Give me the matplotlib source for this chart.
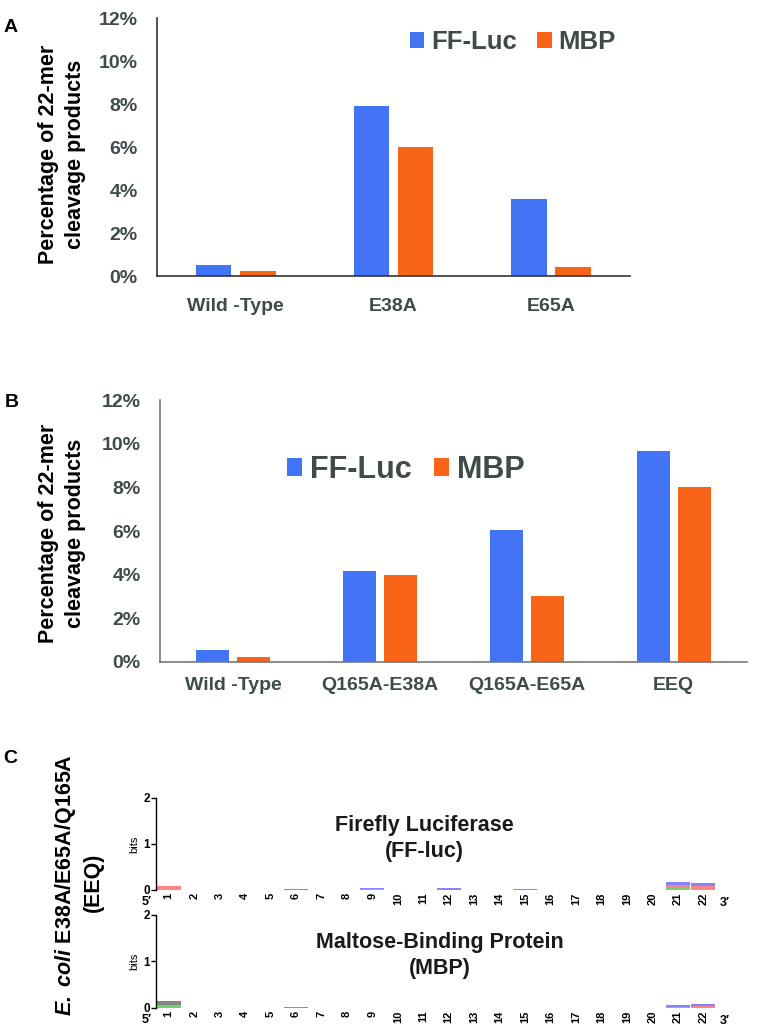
import numpy as np
import matplotlib
matplotlib.use('Agg')
import matplotlib.pyplot as plt

plt.rcParams['font.family'] = ['Liberation Sans', 'DejaVu Sans']
plt.rcParams['mathtext.fontset'] = 'custom'
plt.rcParams['mathtext.rm'] = 'Liberation Sans'
plt.rcParams['mathtext.it'] = 'Liberation Sans:italic'
plt.rcParams['mathtext.bf'] = 'Liberation Sans:bold'
plt.rcParams['mathtext.bfit'] = 'Liberation Sans:italic:bold'

# panel A
a_labels = ['Wild -Type', 'E38A', 'E65A']
a_ffluc = [0.5, 7.9, 3.6]
a_mbp = [0.25, 6.0, 0.4]

# panel B
b_labels = ['Wild -Type', 'Q165A-E38A', 'Q165A-E65A', 'EEQ']
b_ffluc = [0.55, 4.15, 6.05, 9.65]
b_mbp = [0.22, 4.0, 3.0, 8.0]

yticks = [0, 2, 4, 6, 8, 10, 12]
ytick_labels = ['0%', '2%', '4%', '6%', '8%', '10%', '12%']

# panel C: sequence logo heights (bits) per position, letters A, G, U, C
logo_pos = list(range(1, 23))
ff_A = [0.03, 0, 0, 0, 0, 0, 0, 0, 0, 0, 0, 0, 0, 0, 0, 0, 0, 0, 0, 0, 0.04, 0.03]
ff_G = [0] * 22
ff_U = [0.06, 0, 0, 0, 0, 0, 0, 0, 0.015, 0, 0, 0.01, 0, 0, 0, 0, 0, 0, 0, 0, 0.065, 0.065]
ff_C = [0, 0, 0, 0, 0, 0.03, 0, 0, 0.02, 0, 0, 0.025, 0, 0, 0.02, 0, 0, 0, 0, 0, 0.07, 0.065]
mbp_A = [0.06, 0, 0, 0, 0, 0, 0, 0, 0, 0, 0, 0, 0, 0, 0, 0, 0, 0, 0, 0, 0, 0]
mbp_G = [0.09, 0, 0, 0, 0, 0, 0, 0, 0, 0, 0, 0, 0, 0, 0, 0, 0, 0, 0, 0, 0, 0]
mbp_U = [0, 0, 0, 0, 0, 0, 0, 0, 0, 0, 0, 0, 0, 0, 0, 0, 0, 0, 0, 0, 0.02, 0.05]
mbp_C = [0, 0, 0, 0, 0, 0.025, 0, 0, 0, 0, 0, 0, 0, 0, 0, 0, 0, 0, 0, 0, 0.04, 0.035]

blue = '#4374F5'
orange = '#F86418'
tick_grey = '#3f4a4a'

fig = plt.figure(figsize=(7.58, 10.35), dpi=100)


def bar_panel(rect, labels, ff, mbp, spine_col, xpad):
    ax = fig.add_axes(rect)
    x = np.arange(len(labels))
    ax.bar(x - 0.14, ff, 0.225, color=blue, label='FF-Luc')
    ax.bar(x + 0.14, mbp, 0.225, color=orange, label='MBP')
    ax.set_xlim(-0.5, len(labels) - 0.5)
    ax.set_ylim(0, 12)
    ax.set_yticks(yticks)
    ax.set_yticklabels(ytick_labels, fontsize=14, fontweight='bold', color=tick_grey)
    ax.set_xticks(x)
    ax.set_xticklabels(labels, fontsize=14, fontweight='bold', color=tick_grey)
    ax.tick_params(axis='both', length=0)
    ax.tick_params(axis='y', pad=14)
    ax.tick_params(axis='x', pad=xpad)
    for s in ['top', 'right']:
        ax.spines[s].set_visible(False)
    for s in ['left', 'bottom']:
        ax.spines[s].set_color(spine_col)
        ax.spines[s].set_linewidth(1.2)
    return ax


ax_a = bar_panel([0.2071, 0.7333, 0.624, 0.2493], a_labels, a_ffluc, a_mbp, '#333333', 16)
ax_a.legend(loc='center left', bbox_to_anchor=(0.541, 0.9594), bbox_transform=fig.transFigure,
            ncol=2, frameon=False, borderpad=0, borderaxespad=0, handlelength=0.55,
            handleheight=0.55, handletextpad=0.27, columnspacing=0.8,
            prop={'size': 18.5, 'weight': 'bold'}, labelcolor=tick_grey)

ax_b = bar_panel([0.2111, 0.3604, 0.7744, 0.2531], b_labels, b_ffluc, b_mbp, '#777777', 11)
ax_b.legend(loc='center left', bbox_to_anchor=(0.3786, 0.5459), bbox_transform=fig.transFigure,
            ncol=2, frameon=False, borderpad=0, borderaxespad=0, handlelength=0.5,
            handleheight=0.5, handletextpad=0.26, columnspacing=0.72,
            prop={'size': 22, 'weight': 'bold'}, labelcolor=tick_grey)

ylab = 'Percentage of 22-mer\ncleavage products'
fig.text(0.0818, 0.8512, ylab, rotation=90, ha='center', va='center',
         fontsize=15.5, fontweight='bold', linespacing=1.4)
fig.text(0.0818, 0.485, ylab, rotation=90, ha='center', va='center',
         fontsize=15.5, fontweight='bold', linespacing=1.4)

fig.text(0.004, 0.9735, 'A', fontsize=14, fontweight='bold', ha='left', va='center')
fig.text(0.006, 0.6115, 'B', fontsize=14, fontweight='bold', ha='left', va='center')
fig.text(0.004, 0.2675, 'C', fontsize=14, fontweight='bold', ha='left', va='center')

letter_cols = {'A': '#00b000', 'G': '#222222', 'U': '#ff2020', 'C': '#2020ff'}


def logo_panel(rect, letters, title, title_x):
    ax = fig.add_axes(rect)
    bottom = np.zeros(len(logo_pos))
    for name, vals in letters:
        vals = np.array(vals, dtype=float)
        ax.bar(logo_pos, vals, 0.95, bottom=bottom, color=letter_cols[name], alpha=0.55,
               linewidth=0)
        bottom += vals
    ax.set_xlim(0.5, 22.5)
    ax.set_ylim(0, 2)
    ax.set_yticks([0, 1, 2])
    ax.set_yticklabels(['0', '1', '2'], fontsize=8.5, fontweight='bold')
    ax.set_xticks(logo_pos)
    ax.set_xticklabels([str(p) for p in logo_pos], rotation=90, fontsize=8, fontweight='bold')
    ax.tick_params(axis='x', length=0, pad=2)
    ax.tick_params(axis='y', length=3.5, width=1, pad=1)
    for s in ['top', 'right', 'bottom']:
        ax.spines[s].set_visible(False)
    ax.spines['left'].set_linewidth(1)
    ax.set_ylabel('bits', fontsize=8, labelpad=3)
    ax.text(title_x, 0.56, title, transform=ax.transAxes, ha='center', va='center',
            fontsize=15.5, fontweight='bold', color='#1a1a1a', linespacing=1.3)
    ax.text(-0.016, -0.13, '5\u2032', transform=ax.transAxes, ha='center', va='center',
            fontsize=9, fontweight='bold')
    ax.text(1.016, -0.08, '3\u2032', transform=ax.transAxes, ha='center', va='top',
            fontsize=9, fontweight='bold')
    return ax


logo_panel([0.2058, 0.1401, 0.7388, 0.0889],
           [('A', ff_A), ('G', ff_G), ('U', ff_U), ('C', ff_C)],
           'Firefly Luciferase\n(FF-luc)', 0.48)
logo_panel([0.2058, 0.0261, 0.7388, 0.0899],
           [('A', mbp_A), ('G', mbp_G), ('U', mbp_U), ('C', mbp_C)],
           'Maltose-Binding Protein\n(MBP)', 0.507)

fig.text(0.086, 0.145, r'$\mathbfit{E.\ coli}$ E38A/E65A/Q165A', rotation=90, ha='center',
         va='center', fontsize=15.5, fontweight='bold')
fig.text(0.123, 0.148, '(EEQ)', rotation=90, ha='center', va='center', fontsize=15.5,
         fontweight='bold')

fig.savefig('out.png', dpi=100)
